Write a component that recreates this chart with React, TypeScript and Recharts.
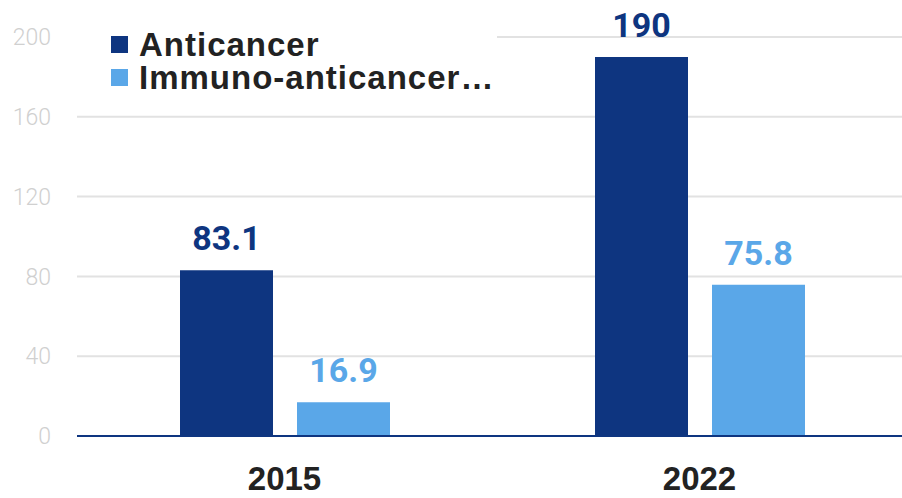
import { BarChart, Bar, XAxis, YAxis, CartesianGrid, LabelList } from 'recharts';

const years = ['2015', '2022'];
const anticancer = [83.1, 190];
const immuno = [16.9, 75.8];
const yTicks = [0, 40, 80, 120, 160, 200];

const DARK = '#0e3580';
const LIGHT = '#5aa7e8';

const data = years.map((year, i) => ({ year, anticancer: anticancer[i], immuno: immuno[i] }));

const legendItems = [
  { name: 'Anticancer', color: DARK },
  { name: 'Immuno-anticancer…', color: LIGHT }
];

function ChartLegend() {
  return (
    <div
      style={{
        position: 'absolute',
        left: 77,
        top: 18,
        width: 420,
        height: 86,
        paddingTop: 10,
        boxSizing: 'border-box',
        background: '#fff'
      }}
    >
      {legendItems.map((item) => (
        <div key={item.name} style={{ display: 'flex', alignItems: 'center', height: 33, paddingLeft: 34 }}>
          <span style={{ width: 17, height: 17, background: item.color, display: 'inline-block', marginRight: 11 }} />
          <span
            style={{
              fontFamily: '"Liberation Sans", Arial, sans-serif',
              fontWeight: 700,
              fontSize: 33,
              letterSpacing: 1,
              color: '#222',
              lineHeight: '33px',
              whiteSpace: 'nowrap'
            }}
          >
            {item.name}
          </span>
        </div>
      ))}
    </div>
  );
}

export default function App() {
  return (
    <div style={{ position: 'absolute', left: 0, top: 0, width: 902, height: 498, overflow: 'hidden', background: '#fff' }}>
      <BarChart width={907} height={498} data={data} margin={{ top: 37, right: 0, bottom: 0, left: 0 }} barSize={93} barGap={24}>
        <CartesianGrid vertical={false} stroke="#e2e2e2" strokeWidth={2} />
        <XAxis
          dataKey="year"
          height={62}
          axisLine={{ stroke: DARK, strokeWidth: 2 }}
          tickLine={false}
          tickMargin={25}
          tick={{ fontSize: 33, fontWeight: 700, fill: '#222', fontFamily: '"Liberation Sans", Arial, sans-serif' }}
        />
        <YAxis
          width={77}
          domain={[0, 200]}
          ticks={yTicks}
          axisLine={false}
          tickLine={false}
          tickMargin={20}
          tick={{ fontSize: 23, fontWeight: 300, fill: '#d0d0d0', fontFamily: 'Roboto, sans-serif' }}
        />
        <Bar dataKey="anticancer" name="Anticancer" fill={DARK} isAnimationActive={false}>
          <LabelList
            dataKey="anticancer"
            position="top"
            offset={20}
            fill={DARK}
            style={{ fontSize: 34, fontWeight: 700, fontFamily: 'Roboto, sans-serif' }}
          />
        </Bar>
        <Bar dataKey="immuno" name="Immuno-anticancer…" fill={LIGHT} isAnimationActive={false}>
          <LabelList
            dataKey="immuno"
            position="top"
            offset={20}
            fill={LIGHT}
            style={{ fontSize: 34, fontWeight: 700, fontFamily: 'Roboto, sans-serif' }}
          />
        </Bar>
      </BarChart>
      <ChartLegend />
    </div>
  );
}
